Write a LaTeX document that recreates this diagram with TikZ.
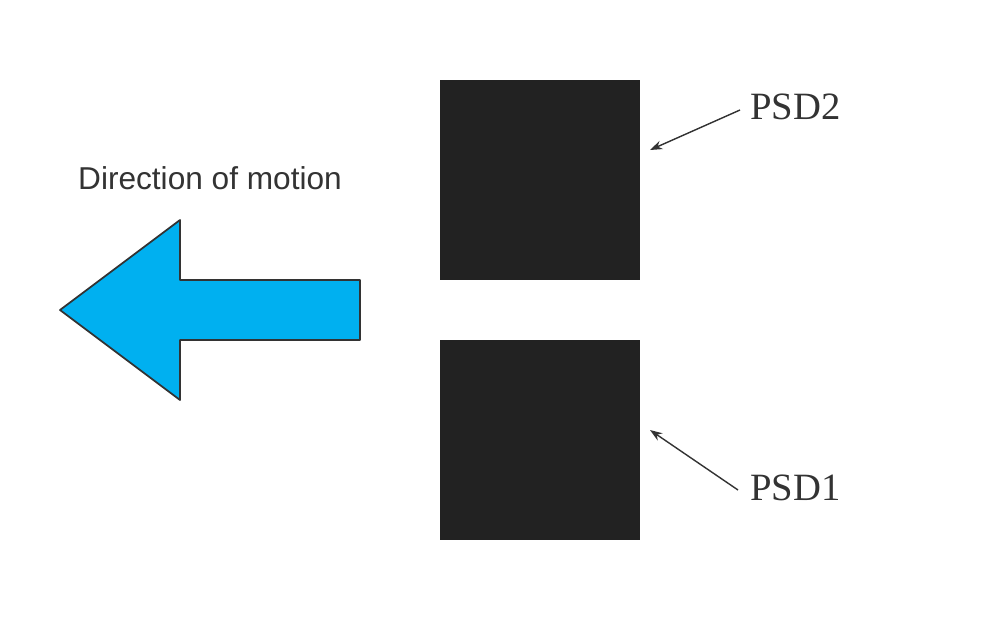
\documentclass[tikz,border=0pt]{standalone}
\usepackage{fontspec}
\setmainfont{Liberation Serif}
\setsansfont{Liberation Sans}
\usetikzlibrary{arrows.meta}
\definecolor{arrowblue}{HTML}{00B0F0}
\definecolor{dark}{HTML}{222222}
\definecolor{txt}{HTML}{333333}
\begin{document}
\begin{tikzpicture}[x=0.02cm,y=-0.02cm,
  psd/.style={fill=dark,draw=none,minimum width=4cm,minimum height=4cm,inner sep=0pt},
  lab/.style={font=\fontsize{22}{26}\selectfont,text=txt,inner sep=0pt},
  pointer/.style={draw=txt,line width=0.8pt,-{Stealth[length=7pt,width=5pt]}}]
\useasboundingbox (0,0) rectangle (1000,640);
\draw[fill=arrowblue,draw=txt,line width=1pt,line join=round]
  (60,310) -- (180,220) -- (180,280) -- (360,280) -- (360,340) -- (180,340) -- (180,400) -- cycle;
\node[font=\sffamily\fontsize{18}{22}\selectfont,text=txt] (dir) at (210,178) {Direction of motion};
\node[psd] (s2) at (540,180) {};
\node[psd] (s1) at (540,440) {};
\node[lab,anchor=west] (p2) at (750,107) {PSD2};
\node[lab,anchor=west] (p1) at (750,488) {PSD1};
\coordinate (t2) at (650,150);
\coordinate (t1) at (650,430);
\draw[pointer] (740,110) -- (t2);
\draw[pointer] (738,490) -- (t1);
\end{tikzpicture}
\end{document}
